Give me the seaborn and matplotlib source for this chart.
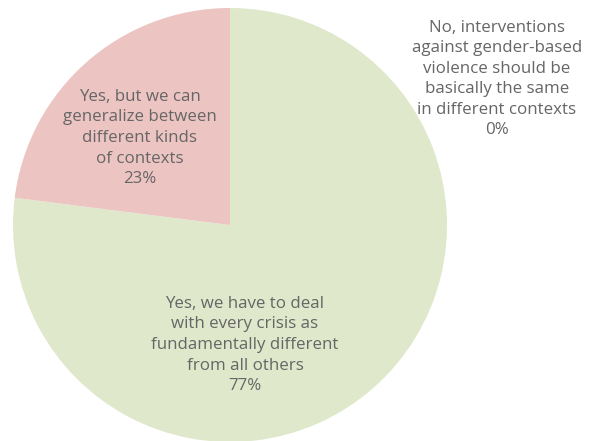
import matplotlib
matplotlib.use("Agg")
import matplotlib.pyplot as plt
import seaborn as sns

sns.set_style("white")
plt.rcParams["font.family"] = ["Open Sans", "DejaVu Sans"]

# Answers, shares (percent) and slice colours
labels = [
    "No, interventions\nagainst gender-based\nviolence should be\nbasically the same\nin different contexts",
    "Yes, we have to deal\nwith every crisis as\nfundamentally different\nfrom all others",
    "Yes, but we can\ngeneralize between\ndifferent kinds\nof contexts",
]
shares = [0, 77, 23]
colors = ["#c9d9ea", "#dfe8ca", "#ecc4c2"]

# Label anchor points in figure pixels (x from left, y from top)
label_xy = [(497, 79), (245, 345), (140, 138)]

W, H = 594, 441
fig = plt.figure(figsize=(W / 100, H / 100), dpi=100)
ax = fig.add_axes([0, 0, 1, 1])

cx, cy, r = 230, 225, 217
ax.pie(shares, colors=colors, startangle=90, counterclock=False,
       center=(cx, H - cy), radius=r, frame=True,
       wedgeprops=dict(linewidth=0))

for text, val, (x, y) in zip(labels, shares, label_xy):
    ax.text(x, H - y, f"{text}\n{val}%", ha="center", va="center",
            fontsize=12.2, color="#666666", linespacing=1.38)

ax.set_xlim(0, W)
ax.set_ylim(0, H)
ax.set_aspect("equal")
ax.axis("off")

fig.savefig("out.png", dpi=100)
